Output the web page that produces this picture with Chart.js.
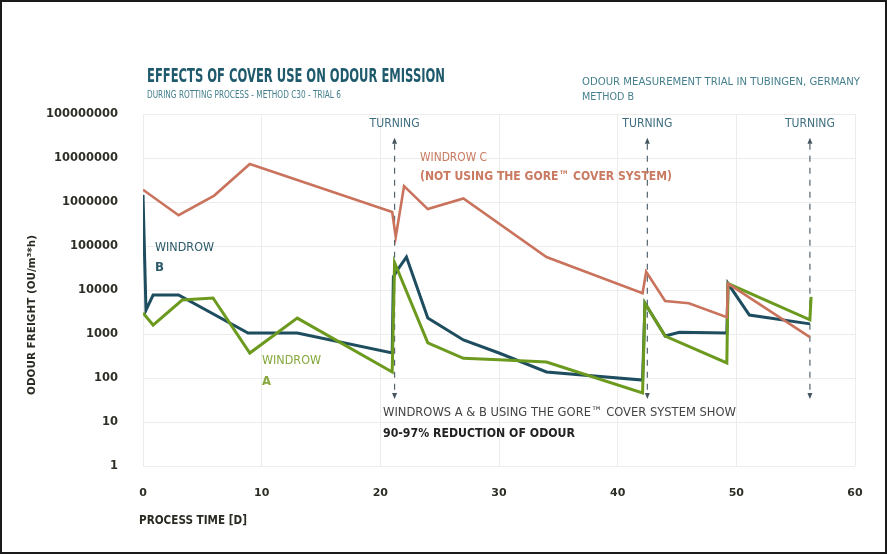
<!DOCTYPE html>
<html>
<head>
<meta charset="utf-8">
<script src="https://cdn.jsdelivr.net/npm/chart.js@4.4.1/dist/chart.umd.min.js"></script>
<style>
html,body{margin:0;padding:0;background:#fff;}
#wrap{width:887px;height:554px;position:relative;}
</style>
</head>
<body>
<div id="wrap"><canvas id="c" width="887" height="554"></canvas></div>
<script>
// ---- data ----
const windrowC_days   = [0, 3, 6, 9, 21, 21.3, 22, 24, 27, 34, 42.1, 42.4, 44, 46, 49.2, 49.3, 56.2];
const windrowC_values = [1.9e6, 5e5, 1.4e6, 7.3e6, 5.9e5, 1.6e5, 2.3e6, 6.9e5, 1.2e6, 5.6e4, 8.5e3, 2.6e4, 5.6e3, 5e3, 2.4e3, 1.4e4, 850];

const windrowB_days   = [0, 0.25, 0.85, 3, 8.85, 13, 21, 21.1, 21.5, 22.2, 24, 27, 30, 34, 42.1, 42.3, 44, 45.2, 49.2, 49.3, 51.1, 56.2];
const windrowB_values = [1.45e6, 3.5e3, 7.7e3, 7.7e3, 1.05e3, 1.05e3, 370, 2e4, 3e4, 5.6e4, 2.3e3, 730, 370, 137, 90, 5e3, 900, 1.1e3, 1.05e3, 1.4e4, 2.7e3, 1.7e3];

const windrowA_days   = [0, 0.85, 3.3, 5.9, 9, 13, 21, 21.2, 24, 27, 30, 34, 42.1, 42.3, 44, 49.2, 49.3, 56.2, 56.3];
const windrowA_values = [3e3, 1.6e3, 5.9e3, 6.6e3, 370, 2.3e3, 137, 4.2e4, 630, 280, 260, 230, 46, 5e3, 900, 220, 1.4e4, 2.1e3, 7e3];

const turningDays = [21.2, 42.5, 56.2];
const turningRange = [37, 2.6e7]; // bottom / top of the dashed markers (OU/m³*h)

const yTickValues = [1, 10, 100, 1000, 10000, 100000, 1000000, 10000000, 100000000];
const xTickValues = [0, 10, 20, 30, 40, 50, 60];

const FONT = "'DejaVu Sans',sans-serif";

function pts(xs, ys){ return xs.map((x,i)=>({x:x, y:ys[i]})); }

function txt(ctx, s, x, y, font, color, w){
  ctx.font = font + ' ' + FONT;
  ctx.fillStyle = color;
  ctx.fillText(s, x, y, w);
}

const overlay = {
  id:'overlay',
  beforeDraw(chart){
    const ctx = chart.ctx;
    ctx.save();
    ctx.fillStyle = '#fff';
    ctx.fillRect(0,0,chart.width,chart.height);
    ctx.restore();
  },
  beforeDatasetsDraw(chart){
    const ctx = chart.ctx, xs = chart.scales.x, ys = chart.scales.y;
    ctx.save();
    turningDays.forEach(d=>{
      const px = xs.getPixelForValue(d);
      const yb = ys.getPixelForValue(turningRange[0]);
      const yt = ys.getPixelForValue(turningRange[1]);
      ctx.strokeStyle = '#55656e';
      ctx.lineWidth = 1.2;
      ctx.setLineDash([6,6]);
      ctx.beginPath(); ctx.moveTo(px, yt+4); ctx.lineTo(px, yb-3); ctx.stroke();
      ctx.setLineDash([]);
      ctx.fillStyle = '#45555e';
      ctx.beginPath(); ctx.moveTo(px, yt-2); ctx.lineTo(px-2.5, yt+4); ctx.lineTo(px+2.5, yt+4); ctx.closePath(); ctx.fill();
      ctx.beginPath(); ctx.moveTo(px, yb+2); ctx.lineTo(px-2.5, yb-4); ctx.lineTo(px+2.5, yb-4); ctx.closePath(); ctx.fill();
      ctx.textAlign = 'center'; ctx.textBaseline = 'middle';
      txt(ctx, 'TURNING', px, yt - 16, '12px', '#3f6f80', 50);
    });
    ctx.restore();
  },
  afterDraw(chart){
    const ctx = chart.ctx;
    ctx.save();
    ctx.textBaseline = 'middle';
    ctx.textAlign = 'left';
    // title block
    txt(ctx, 'EFFECTS OF COVER USE ON ODOUR EMISSION', 147, 77, 'bold 19px', '#1f5a6c', 298);
    txt(ctx, 'DURING ROTTING PROCESS - METHOD C30 - TRIAL 6', 147, 95, '11px', '#46808e', 194);
    txt(ctx, 'ODOUR MEASUREMENT TRIAL IN TUBINGEN, GERMANY', 582, 82, '11px', '#46808e', 278);
    txt(ctx, 'METHOD B', 582, 97, '11px', '#46808e', 52);
    // series labels
    txt(ctx, 'WINDROW C', 420, 158, '13px', '#c97a60', 67);
    txt(ctx, '(NOT USING THE GORE\u2122 COVER SYSTEM)', 420, 177, 'bold 13px', '#c97a60', 252);
    txt(ctx, 'WINDROW', 155, 248, '12px', '#2c5a6a', 59);
    txt(ctx, 'B', 155, 268, 'bold 12px', '#2c5a6a', 9);
    txt(ctx, 'WINDROW', 262, 361, '12px', '#86a83e', 59);
    txt(ctx, 'A', 262, 382, 'bold 12px', '#86a83e', 9);
    txt(ctx, 'WINDROWS A & B USING THE GORE\u2122 COVER SYSTEM SHOW', 383, 413, '13px', '#444', 353);
    txt(ctx, '90-97% REDUCTION OF ODOUR', 383, 434, 'bold 13px', '#222', 192);
    // axis titles
    txt(ctx, 'PROCESS TIME [D]', 139, 521, 'bold 12px', '#2a2a22', 108);
    ctx.translate(32, 315);
    ctx.rotate(-Math.PI/2);
    ctx.textAlign = 'center';
    txt(ctx, 'ODOUR FREIGHT (OU/m\u00b3*h)', 0, 0, 'bold 11px', '#2a2a22', 160);
    ctx.restore();
    // frame
    ctx.save();
    ctx.strokeStyle = '#1a1a1a';
    ctx.lineWidth = 2;
    ctx.strokeRect(1, 1, chart.width-2, chart.height-2);
    ctx.restore();
  }
};

new Chart(document.getElementById('c'), {
  type: 'line',
  data: {
    datasets: [
      { label:'Windrow C', data: pts(windrowC_days, windrowC_values), borderColor:'#c9735d', borderWidth:2.6 },
      { label:'Windrow A', data: pts(windrowA_days, windrowA_values), borderColor:'#6b9a1f', borderWidth:3 },
      { label:'Windrow B', data: pts(windrowB_days, windrowB_values), borderColor:'#1d4d5e', borderWidth:3 }
    ]
  },
  options: {
    responsive:false,
    animation:false,
    devicePixelRatio:1,
    elements:{ point:{ radius:0 }, line:{ tension:0, borderJoinStyle:'miter' } },
    layout:{ padding:{ left:0, top:114, right:32, bottom:48 } },
    plugins:{ legend:{display:false}, tooltip:{enabled:false}, title:{display:false} },
    scales:{
      x:{
        type:'linear', min:0, max:60,
        afterFit(s){ s.height = 40; },
        afterBuildTicks(s){ s.ticks = xTickValues.map(v=>({value:v})); },
        grid:{ color:'#ececec', drawTicks:false },
        border:{ display:false },
        ticks:{ padding:21, color:'#2e2e26', font:{ family:FONT, size:11, weight:'bold' } }
      },
      y:{
        type:'logarithmic', min:1, max:1e8,
        afterFit(s){ s.width = 143; },
        afterBuildTicks(s){ s.ticks = yTickValues.map(v=>({value:v})); },
        grid:{ color:'#ececec', drawTicks:false },
        border:{ display:false },
        ticks:{ padding:25, color:'#2e2e26', font:{ family:FONT, size:11.5, weight:'bold' },
          callback:(v)=> String(v) }
      }
    }
  },
  plugins:[overlay]
});
</script>
</body>
</html>
